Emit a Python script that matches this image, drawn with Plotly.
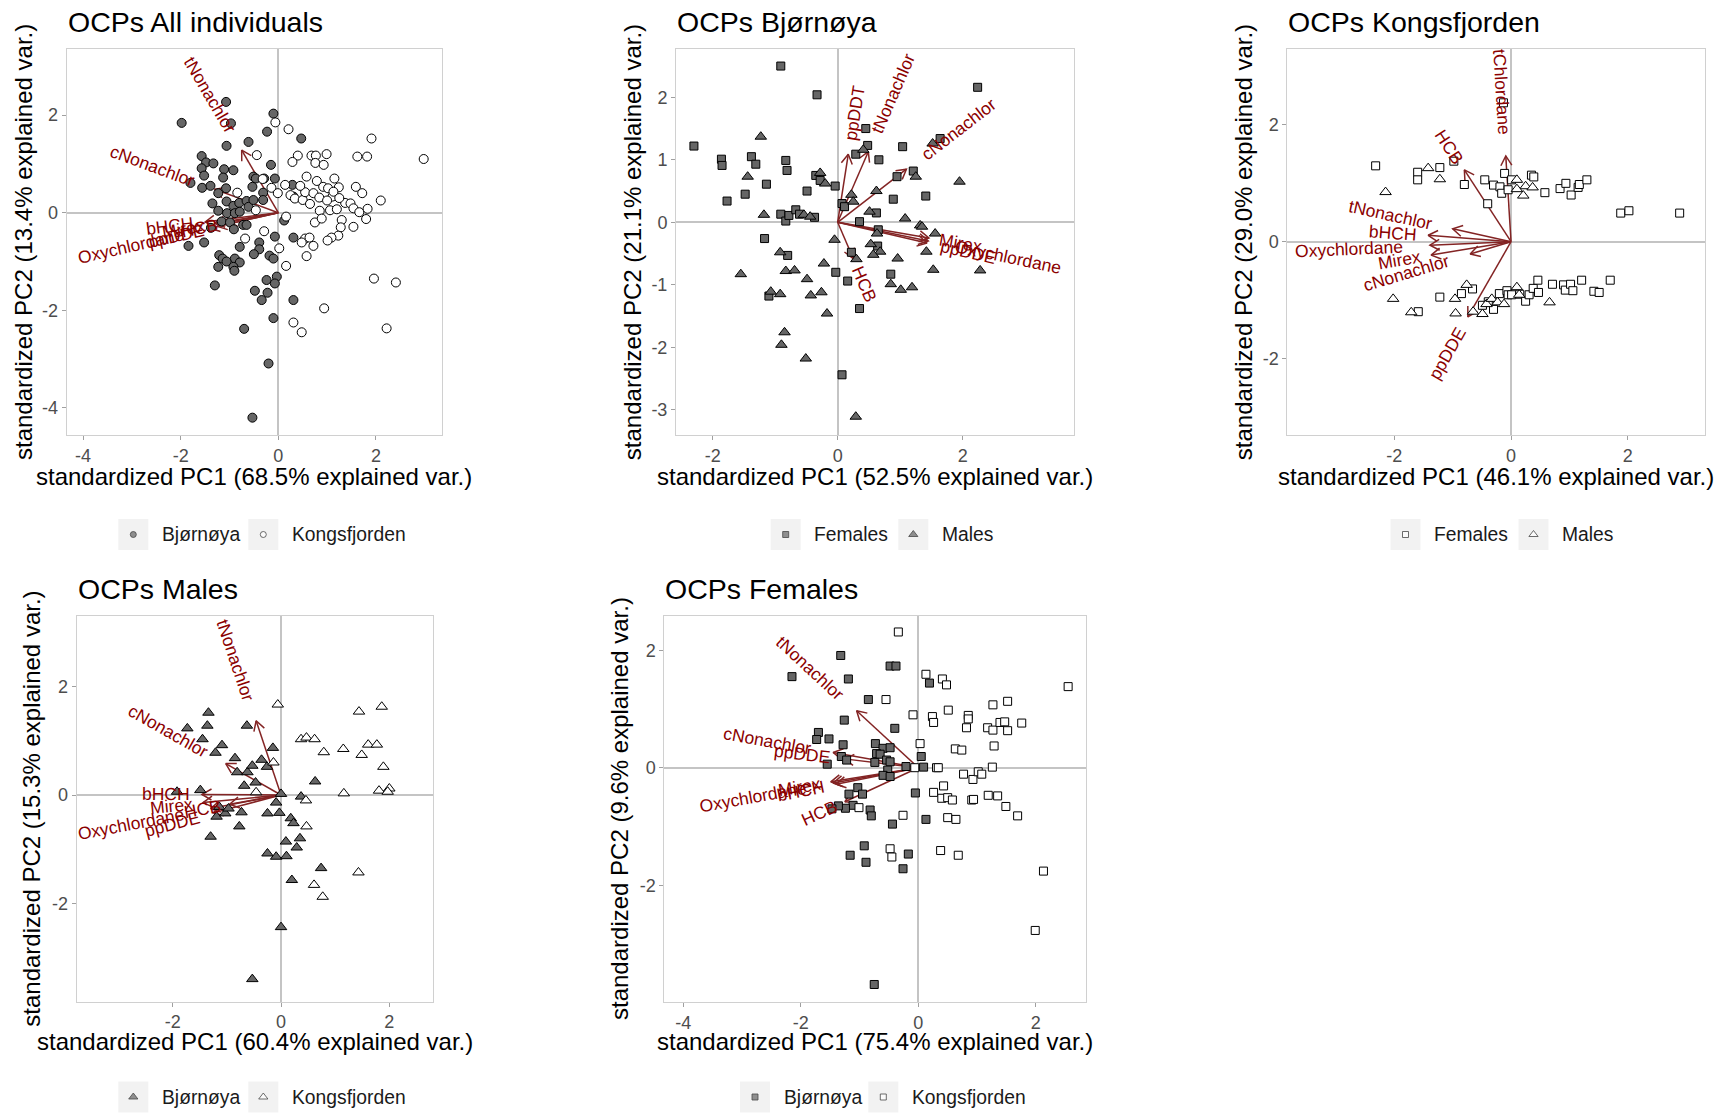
import math
import plotly.graph_objects as go

W, H = 1729, 1114
FONT = "Liberation Sans, Arial, Helvetica, sans-serif"

# ------------------------------------------------------------------ data
# Panel 1: all individuals (PC1 68.5 %, PC2 13.4 %)
p1_bjornoya = [(-1.98,1.84),(-1.07,2.27),(-0.97,1.83),(-0.10,2.03),(-0.23,1.66),(0.47,1.52),(-1.06,1.37),(-0.61,1.45),
    (-1.57,1.16),(-1.48,1.03),(-1.33,1.01),(-1.57,0.91),(-1.52,0.76),(-1.11,0.89),(-0.92,0.87),(-0.15,0.98),(-1.13,0.72),
    (-1.80,0.61),(-1.56,0.51),(-1.39,0.55),(-1.23,0.40),(-1.07,0.50),(-0.51,0.74),(-0.46,0.70),(-0.29,0.70),(-0.07,0.70),
    (-0.53,0.53),(-0.31,0.41),(-0.31,0.26),(0.29,0.57),(-1.35,0.19),(-1.23,0.04),(-1.06,0.23),(-0.92,0.14),(-0.80,0.20),
    (-0.65,0.24),(-0.61,0.12),(-0.51,0.26),(-1.05,-0.01),(-0.89,-0.01),(-0.79,0.02),(-1.16,-0.18),(-0.99,-0.20),(-1.38,-0.31),
    (-0.91,-0.34),(-0.72,-0.25),(-0.65,-0.25),(0.12,-0.16),(0.31,0.33),(0.31,-0.51),(-0.07,-0.49),(-1.84,-0.68),(-1.52,-0.61),
    (-0.79,-0.70),(-0.39,-0.61),(-0.39,-0.75),(-0.50,-0.85),(-1.21,-0.87),(-1.14,-0.94),(-0.89,-0.94),(-1.06,-1.00),(-0.79,-1.02),
    (-1.23,-1.11),(-0.92,-1.11),(-0.90,-1.19),(-0.18,-0.88),(-0.10,-0.94),(-0.03,-1.31),(-0.24,-1.38),(-0.07,-1.45),(-1.30,-1.49),
    (-0.48,-1.60),(-0.22,-1.64),(-0.34,-1.79),(0.31,-1.79),(-0.10,-2.16),(-0.70,-2.38),(-0.20,-3.09),(-0.53,-4.20)]
p1_kongsfjorden = [(-0.06,1.85),(0.21,1.71),(1.91,1.52),(2.98,1.10),(-0.44,1.18),(0.40,1.17),(0.29,1.04),(0.68,1.17),
    (0.77,1.17),(0.99,1.20),(0.76,1.02),(0.93,0.98),(1.62,1.15),(1.82,1.15),(-0.32,0.69),(0.14,0.57),(0.58,0.74),(0.79,0.65),
    (1.15,0.70),(0.92,0.53),(1.02,0.50),(1.24,0.52),(1.59,0.53),(1.72,0.40),(2.10,0.25),(-0.84,0.41),(-0.46,0.05),(-0.14,0.51),
    (-0.01,0.40),(0.25,0.36),(0.34,0.29),(0.50,0.26),(0.55,0.42),(0.72,0.40),(0.84,0.31),(1.11,0.33),(1.13,0.43),(0.65,0.18),
    (0.85,0.04),(1.06,0.05),(1.20,0.07),(1.37,0.20),(1.48,0.19),(1.54,0.09),(1.66,0.01),(1.83,0.08),(1.80,-0.13),(1.30,-0.15),
    (0.75,-0.20),(0.89,-0.12),(1.54,-0.29),(1.28,-0.30),(1.23,-0.47),(1.09,-0.51),(1.01,-0.57),(0.16,-0.08),(-0.29,-0.38),
    (-0.68,-0.53),(0.02,-0.73),(0.55,-0.53),(0.64,-0.51),(0.48,-0.61),(0.72,-0.68),(0.58,-0.89),(0.16,-1.09),(1.96,-1.35),
    (2.41,-1.43),(0.94,-1.96),(0.31,-2.25),(0.48,-2.45),(2.22,-2.37),(0.45,0.55),(1.25,0.30),(1.00,0.25)]
p1_vars = ["tNonachlor", "cNonachlor", "bHCH", "HCB", "Mirex", "ppDDE", "Oxychlordane"]
p1_vx = [-0.75, -1.30, -1.50, -1.05, -1.30, -1.25, -1.40]
p1_vy = [1.28, 0.48, -0.19, -0.20, -0.22, -0.28, -0.32]

# Panel 2: Bjørnøya (PC1 52.5 %, PC2 21.1 %)
p2_females = [(-0.91,2.50),(-0.33,2.04),(2.24,2.16),(-2.30,1.22),(-1.86,1.01),(-1.85,0.91),(-1.38,1.05),(-1.31,0.93),
    (-0.83,0.99),(-0.81,0.83),(-1.14,0.61),(-1.77,0.34),(-1.48,0.45),(-0.49,0.50),(-0.35,0.75),(-0.28,0.67),(-0.04,0.58),
    (-0.91,0.13),(-0.83,0.02),(-0.78,0.11),(-0.67,0.20),(-0.61,0.13),(-0.37,0.08),(0.45,1.50),(0.48,1.23),(0.29,1.09),
    (0.66,1.00),(1.04,1.21),(1.64,1.34),(0.95,0.73),(1.21,0.82),(0.89,0.37),(1.41,0.42),(0.07,0.30),(0.11,0.25),(0.35,0.01),
    (0.62,0.15),(0.65,-0.12),(0.64,-0.38),(0.22,-0.48),(-0.80,-0.53),(-1.17,-0.26),(-0.03,-0.80),(0.16,-0.94),(0.85,-0.83),
    (-1.10,-1.18),(0.35,-1.38),(0.07,-2.44)]
p2_males = [(-1.23,1.37),(-1.44,0.73),(-1.18,0.12),(-0.28,0.79),(-0.20,0.62),(-0.54,0.12),(-0.44,0.09),(0.22,0.44),
    (0.25,0.33),(0.41,1.16),(1.52,1.26),(1.25,0.73),(1.95,0.65),(0.62,0.50),(0.51,0.17),(1.08,0.06),(1.32,-0.05),(1.35,-0.07),
    (1.56,-0.18),(0.63,-0.18),(-0.05,-0.28),(0.53,-0.35),(0.68,-0.47),(0.57,-0.52),(0.96,-0.58),(1.42,-0.47),(1.53,-0.76),
    (2.28,-0.77),(0.30,-0.59),(-0.22,-0.66),(-0.92,-0.48),(-0.83,-0.78),(-0.69,-0.77),(-1.55,-0.83),(-1.07,-1.11),(-0.92,-1.15),
    (-0.49,-0.91),(-0.43,-1.17),(-0.26,-1.12),(0.85,-0.99),(1.01,-1.08),(1.19,-1.04),(-0.17,-1.46),(-0.85,-1.76),(-0.90,-1.96),
    (-0.51,-2.18),(0.29,-3.11)]
p2_vars = ["ppDDT", "tNonachlor", "cNonachlor", "Mirex", "Oxychlordane", "ppDDE", "HCB"]
p2_vx = [0.17, 0.49, 1.10, 1.46, 1.45, 1.43, 0.25]
p2_vy = [1.09, 1.13, 0.85, -0.25, -0.30, -0.33, -0.58]

# Panel 3: Kongsfjorden (PC1 46.1 %, PC2 29.0 %)
p3_females = [(-2.32,1.30),(-1.60,1.19),(-1.60,1.06),(-1.22,1.27),(-0.98,1.38),(-0.80,0.98),(-0.40,0.65),(-0.45,1.06),
    (-0.30,0.97),(-0.19,0.94),(-0.16,0.83),(-0.11,1.17),(-0.05,0.89),(0.01,1.06),(0.35,1.14),(0.39,1.11),(-0.13,2.38),
    (0.58,0.84),(0.84,0.91),(0.94,1.00),(1.03,0.80),(1.15,0.93),(1.17,0.98),(1.30,1.06),(1.88,0.49),(2.02,0.53),(2.89,0.49),
    (-1.22,-0.95),(-1.59,-1.20),(-0.85,-0.89),(-0.66,-0.81),(-0.49,-1.09),(-0.39,-1.03),(-0.30,-1.16),(-0.20,-0.89),
    (-0.07,-0.84),(-0.05,-0.91),(0.01,-0.91),(0.15,-0.90),(0.25,-1.02),(0.31,-0.91),(0.38,-0.80),(0.46,-0.66),(0.47,-0.87),
    (0.71,-0.73),(0.90,-0.74),(0.93,-0.83),(1.02,-0.73),(1.06,-0.84),(1.21,-0.66),(1.42,-0.85),(1.51,-0.87),(1.70,-0.66)]
p3_males = [(-1.42,1.26),(-1.22,1.07),(-2.15,0.85),(0.10,1.06),(0.25,0.95),(0.10,0.90),(0.21,0.79),(0.37,0.93),
    (-2.02,-0.98),(-1.71,-1.21),(-0.96,-0.98),(-0.95,-1.23),(-0.76,-0.74),(-0.65,-1.20),(-0.49,-1.24),(-0.42,-1.07),
    (-0.33,-0.98),(-0.23,-1.04),(-0.12,-1.07),(0.10,-0.78),(0.14,-0.91),(0.66,-1.04)]
p3_vars = ["tChlordane", "HCB", "tNonachlor", "bHCH", "Oxychlordane", "Mirex", "cNonachlor", "ppDDE"]
p3_vx = [-0.09, -0.80, -1.00, -1.42, -1.39, -1.37, -0.70, -0.74]
p3_vy = [1.47, 1.23, 0.22, 0.11, -0.06, -0.23, -0.21, -1.29]

# Panel 4: males (PC1 60.4 %, PC2 15.3 %)
p4_bjornoya = [(-1.34,1.52),(-1.73,1.23),(-1.36,1.28),(-1.45,1.03),(-0.63,1.28),(-1.09,0.92),(-1.21,0.78),(-0.85,0.68),
    (-0.81,0.42),(-0.62,0.42),(-0.53,0.54),(-0.68,0.17),(-0.47,0.23),(-0.36,0.65),(-0.26,0.52),(-0.15,0.87),(-1.92,0.06),
    (-1.49,0.09),(0.00,0.02),(0.63,0.25),(0.37,-0.03),(-0.09,-0.14),(-1.14,-0.22),(-1.19,-0.40),(-1.03,-0.34),(-0.97,-0.25),
    (-0.73,-0.32),(-0.77,-0.58),(-1.30,-0.77),(-0.25,-0.34),(-0.03,-0.33),(0.18,-0.43),(0.23,-0.52),(0.35,-0.80),(0.09,-0.86),
    (0.29,-0.97),(-0.25,-1.08),(-0.09,-1.14),(0.10,-1.13),(0.74,-1.35),(0.20,-1.57),(0.00,-2.44),(-0.53,-3.40)]
p4_kongsfjorden = [(-0.06,1.67),(1.44,1.54),(1.86,1.63),(0.37,1.03),(0.47,1.06),(0.62,1.03),(0.79,0.79),(1.15,0.85),
    (1.49,0.74),(1.61,0.93),(1.77,0.93),(1.89,0.52),(1.16,0.03),(1.81,0.08),(2.00,0.12),(1.97,0.06),(-0.14,0.60),(-0.46,0.05),
    (0.46,-0.10),(0.47,-0.58),(0.61,-1.66),(0.77,-1.88),(1.43,-1.43)]
p4_vars = ["tNonachlor", "cNonachlor", "bHCH", "Mirex", "Oxychlordane", "ppDDE", "HCB"]
p4_vx = [-0.46, -1.02, -1.46, -1.44, -1.30, -1.25, -0.95]
p4_vy = [1.37, 0.58, 0.01, -0.14, -0.25, -0.33, -0.17]

# Panel 5: females (PC1 75.4 %, PC2 9.6 %)
p5_bjornoya = [(-1.32,1.91),(-2.15,1.55),(-1.19,1.51),(-0.48,1.73),(-0.38,1.73),(0.19,1.44),(-0.85,1.16),(-1.26,0.81),
    (-0.40,0.67),(-1.70,0.60),(-1.73,0.48),(-1.52,0.49),(-1.28,0.39),(-1.31,0.19),(-1.22,0.13),(-1.55,0.06),(-0.73,0.41),
    (-0.60,0.33),(-0.48,0.34),(-0.71,0.24),(-0.65,0.23),(-0.74,0.09),(-0.54,0.13),(-0.48,0.10),(-0.52,-0.04),(-0.60,-0.13),
    (-0.48,-0.15),(-0.21,0.02),(0.05,0.19),(0.09,0.01),(-0.05,-0.43),(-1.03,-0.34),(-0.95,-0.45),(-1.18,-0.45),(-1.11,-0.64),
    (-1.24,-0.69),(-1.36,-0.65),(-1.47,-0.70),(-0.82,-0.72),(-0.80,-0.82),(0.13,-0.88),(-0.44,-0.96),(-0.92,-1.33),
    (-1.16,-1.49),(-0.89,-1.61),(-0.17,-1.47),(-0.26,-1.72),(-0.75,-3.69)]
p5_kongsfjorden = [(-0.34,2.31),(0.13,1.59),(0.41,1.51),(0.48,1.41),(2.55,1.38),(1.27,1.07),(1.52,1.13),(-0.55,1.16),
    (-0.09,0.90),(0.24,0.87),(0.26,0.77),(0.51,0.98),(0.85,0.89),(0.85,0.83),(0.82,0.68),(1.18,0.68),(1.27,0.64),(1.39,0.77),
    (1.47,0.78),(1.52,0.63),(1.76,0.76),(1.29,0.37),(0.03,0.41),(0.63,0.32),(0.74,0.30),(-0.06,0.00),(0.31,0.00),(0.34,0.00),
    (0.77,-0.11),(0.93,-0.20),(1.02,-0.07),(1.08,-0.11),(1.26,0.01),(0.43,-0.31),(0.26,-0.42),(0.40,-0.52),(0.50,-0.51),
    (0.58,-0.55),(0.91,-0.55),(0.94,-0.54),(1.19,-0.47),(1.35,-0.48),(1.49,-0.66),(1.69,-0.82),(-0.26,-0.81),(0.50,-0.85),
    (0.64,-0.88),(-1.01,-0.68),(-0.48,-1.38),(-0.45,-1.52),(0.38,-1.41),(0.68,-1.49),(2.13,-1.76),(1.99,-2.77)]
p5_vars = ["tNonachlor", "cNonachlor", "ppDDE", "Oxychlordane", "Mirex", "bHCH", "HCB"]
p5_vx = [-1.05, -1.45, -1.26, -1.45, -1.49, -1.40, -1.25]
p5_vy = [0.97, 0.26, 0.15, -0.26, -0.24, -0.28, -0.58]

titles = ["OCPs All individuals", "OCPs Bjørnøya", "OCPs Kongsfjorden", "OCPs Males", "OCPs Females"]
pc1_var = ["68.5", "52.5", "46.1", "60.4", "75.4"]
pc2_var = ["13.4", "21.1", "29.0", "15.3", "9.6"]

# ------------------------------------------------------------------ style
GREY_FILL = "#666666"
WHITE_FILL = "#FFFFFF"
ARROW_COL = "#832424"
LABEL_COL = "#8B0000"
LABEL_SIZE = 17.5
ARROW_PX = 11

panels = [
    dict(box=(66.7, 49, 442, 435), xr=(-4.336, 3.355), yr=(-4.555, 3.354), xt=[-4, -2, 0, 2], yt=[-4, -2, 0, 2],
         ytx=23, row=0, vars=(p1_vars, p1_vx, p1_vy),
         groups=[(p1_bjornoya, "circle", GREY_FILL, "Bjørnøya"), (p1_kongsfjorden, "circle", WHITE_FILL, "Kongsfjorden")],
         legend_x=[133.3, 263.3]),
    dict(box=(676, 49.3, 1074.3, 435), xr=(-2.587, 3.787), yr=(-3.403, 2.768), xt=[-2, 0, 2], yt=[-3, -2, -1, 0, 1, 2],
         ytx=632, row=0, vars=(p2_vars, p2_vx, p2_vy),
         groups=[(p2_females, "square", GREY_FILL, "Females"), (p2_males, "triangle-up", GREY_FILL, "Males")],
         legend_x=[785.7, 913.3]),
    dict(box=(1287.3, 49.3, 1705, 435), xr=(-3.834, 3.324), yr=(-3.313, 3.297), xt=[-2, 0, 2], yt=[-2, 0, 2],
         ytx=1243, row=0, vars=(p3_vars, p3_vx, p3_vy),
         groups=[(p3_females, "square", WHITE_FILL, "Females"), (p3_males, "triangle-up", WHITE_FILL, "Males")],
         legend_x=[1405.5, 1533.5]),
    dict(box=(76.7, 615.7, 432.7, 1001.7), xr=(-3.773, 2.801), yr=(-3.817, 3.311), xt=[-2, 0, 2], yt=[-2, 0, 2],
         ytx=32, row=1, vars=(p4_vars, p4_vx, p4_vy),
         groups=[(p4_bjornoya, "triangle-up", GREY_FILL, "Bjørnøya"), (p4_kongsfjorden, "triangle-up", WHITE_FILL, "Kongsfjorden")],
         legend_x=[133.3, 263.3]),
    dict(box=(664.3, 616, 1086, 1002), xr=(-4.323, 2.854), yr=(-3.988, 2.582), xt=[-4, -2, 0, 2], yt=[-2, 0, 2],
         ytx=619, row=1, vars=(p5_vars, p5_vx, p5_vy),
         groups=[(p5_bjornoya, "square", GREY_FILL, "Bjørnøya"), (p5_kongsfjorden, "square", WHITE_FILL, "Kongsfjorden")],
         legend_x=[755, 883.3]),
]
ROW_TITLE_Y = [22, 589]
ROW_XTITLE_Y = [476, 1041]
ROW_LEGEND_Y = [534.5, 1097]

MARKER_SIZE = {"circle": 9, "square": 8, "triangle-up": 10}
LEGEND_MARKER_SIZE = {"circle": 6, "square": 6, "triangle-up": 8}

ARIAL_W = {'a': .556, 'b': .556, 'c': .5, 'd': .556, 'e': .556, 'f': .278, 'g': .556, 'h': .556, 'i': .222,
           'j': .222, 'k': .5, 'l': .222, 'm': .833, 'n': .556, 'o': .556, 'p': .556, 'q': .556, 'r': .333,
           's': .5, 't': .278, 'u': .556, 'v': .5, 'w': .722, 'x': .5, 'y': .5, 'z': .5,
           'A': .667, 'B': .667, 'C': .722, 'D': .722, 'E': .667, 'H': .722, 'M': .833, 'N': .722,
           'O': .778, 'T': .611}


def text_width(s, size):
    return sum(ARIAL_W.get(ch, 0.6) for ch in s) * size


def px_x(px):
    return px / W


def px_y(py):
    return 1 - py / H


fig = go.Figure()
annotations = []
shapes = []
layout_axes = {}

for i, p in enumerate(panels, start=1):
    xa = "x" if i == 1 else f"x{i}"
    ya = "y" if i == 1 else f"y{i}"
    l, t, r, b = p["box"]
    unit = (r - l) / (p["xr"][1] - p["xr"][0])

    # white panel background (plot_bgcolor is transparent so the legend overlay does not hide it)
    shapes.append(dict(type="rect", xref="paper", yref="paper", x0=px_x(l), x1=px_x(r), y0=px_y(b), y1=px_y(t),
                       fillcolor="white", line=dict(width=0), layer="below"))

    # ---- variable arrows (drawn first, under the points)
    names, vxs, vys = p["vars"]
    ax_, ay_ = [], []
    L = ARROW_PX / unit
    for name, vx, vy in zip(names, vxs, vys):
        n = math.hypot(vx, vy)
        ux, uy = vx / n, vy / n
        ax_ += [0, vx, None]
        ay_ += [0, vy, None]
        arms = []
        for s in (30, -30):
            c, sn = math.cos(math.radians(s)), math.sin(math.radians(s))
            rx, ry = ux * c - uy * sn, ux * sn + uy * c
            arms.append((vx - L * rx, vy - L * ry))
        ax_ += [arms[0][0], vx, arms[1][0], None]
        ay_ += [arms[0][1], vy, arms[1][1], None]
    fig.add_trace(go.Scatter(x=ax_, y=ay_, mode="lines", line=dict(color=ARROW_COL, width=1.5),
                             xaxis=xa, yaxis=ya, showlegend=False, hoverinfo="skip"))

    # ---- points
    for pts, sym, fill, lab in p["groups"]:
        fig.add_trace(go.Scatter(
            x=[q[0] for q in pts], y=[q[1] for q in pts], mode="markers", name=lab,
            marker=dict(symbol=sym, size=MARKER_SIZE[sym], color=fill, line=dict(color="black", width=1)),
            xaxis=xa, yaxis=ya, showlegend=False))

    # ---- variable labels (ggbiplot: anchored at arrow tip, hjust 1.25 / -0.25)
    for name, vx, vy in zip(names, vxs, vys):
        n = math.hypot(vx, vy)
        ux, uy = vx / n, vy / n
        w = text_width(name, LABEL_SIZE) / unit
        cx, cy = vx + 0.75 * w * ux, vy + 0.75 * w * uy
        ang = math.degrees(math.atan(vy / vx))
        annotations.append(dict(x=cx, y=cy, xref=xa, yref=ya, text=name, showarrow=False,
                                textangle=-ang, xanchor="center", yanchor="middle",
                                font=dict(family=FONT, size=LABEL_SIZE, color=LABEL_COL)))

    # ---- axes
    common = dict(showgrid=False, zeroline=True, zerolinecolor="#C4C4C4", zerolinewidth=1.5,
                  showline=True, mirror=True, linecolor="#D0D0D0", linewidth=1,
                  ticks="outside", ticklen=4, tickwidth=1, tickcolor="#A0A0A0",
                  tickfont=dict(family=FONT, size=18, color="#4D4D4D"), fixedrange=True)
    layout_axes["xaxis" if i == 1 else f"xaxis{i}"] = dict(
        domain=[px_x(l), px_x(r)], range=list(p["xr"]), anchor=ya,
        tickvals=p["xt"], ticktext=[str(v) for v in p["xt"]], **common)
    layout_axes["yaxis" if i == 1 else f"yaxis{i}"] = dict(
        domain=[px_y(b), px_y(t)], range=list(p["yr"]), anchor=xa,
        tickvals=p["yt"], ticktext=[str(v) for v in p["yt"]], **common)

    row = p["row"]
    # title
    annotations.append(dict(x=px_x(l - 1), y=px_y(ROW_TITLE_Y[row]), xref="paper", yref="paper",
                            text=titles[i - 1], showarrow=False, xanchor="left", yanchor="middle",
                            font=dict(family=FONT, size=28.5, color="black")))
    # axis titles
    annotations.append(dict(x=px_x((l + r) / 2), y=px_y(ROW_XTITLE_Y[row]), xref="paper", yref="paper",
                            text=f"standardized PC1 ({pc1_var[i - 1]}% explained var.)", showarrow=False,
                            xanchor="center", yanchor="middle",
                            font=dict(family=FONT, size=24, color="black")))
    annotations.append(dict(x=px_x(p["ytx"]), y=px_y((t + b) / 2), xref="paper", yref="paper",
                            text=f"standardized PC2 ({pc2_var[i - 1]}% explained var.)", showarrow=False,
                            textangle=-90, xanchor="center", yanchor="middle",
                            font=dict(family=FONT, size=24, color="black")))

    # ---- legend (ggplot style: grey key boxes)
    ly = ROW_LEGEND_Y[row]
    lx_list, ly_list, syms, fills, sizes = [], [], [], [], []
    for kx, (pts, sym, fill, lab) in zip(p["legend_x"], p["groups"]):
        shapes.append(dict(type="rect", xref="paper", yref="paper",
                           x0=px_x(kx - 15), x1=px_x(kx + 15), y0=px_y(ly + 15.5), y1=px_y(ly - 15.5),
                           fillcolor="#F2F2F2", line=dict(width=0), layer="below"))
        annotations.append(dict(x=px_x(kx + 26.5), y=px_y(ly), xref="paper", yref="paper", text=lab,
                                showarrow=False, xanchor="left", yanchor="middle",
                                font=dict(family=FONT, size=19.3, color="#1A1A1A")))
        lx_list.append(kx)
        ly_list.append(ly)
        syms.append(sym)
        fills.append(fill)
        sizes.append(LEGEND_MARKER_SIZE[sym])
    fig.add_trace(go.Scatter(x=lx_list, y=ly_list, mode="markers",
                             marker=dict(symbol=syms, size=sizes, color=fills, line=dict(color="black", width=0.8)),
                             xaxis="x6", yaxis="y6", showlegend=False, hoverinfo="skip"))

layout_axes["xaxis6"] = dict(domain=[0, 1], range=[0, W], visible=False, fixedrange=True, anchor="y6")
layout_axes["yaxis6"] = dict(domain=[0, 1], range=[H, 0], visible=False, fixedrange=True, anchor="x6")

fig.update_layout(width=W, height=H, margin=dict(l=0, r=0, t=0, b=0),
                  paper_bgcolor="white", plot_bgcolor="rgba(0,0,0,0)", showlegend=False,
                  annotations=annotations, shapes=shapes, font=dict(family=FONT),
                  **layout_axes)

fig.write_html("out.html")
